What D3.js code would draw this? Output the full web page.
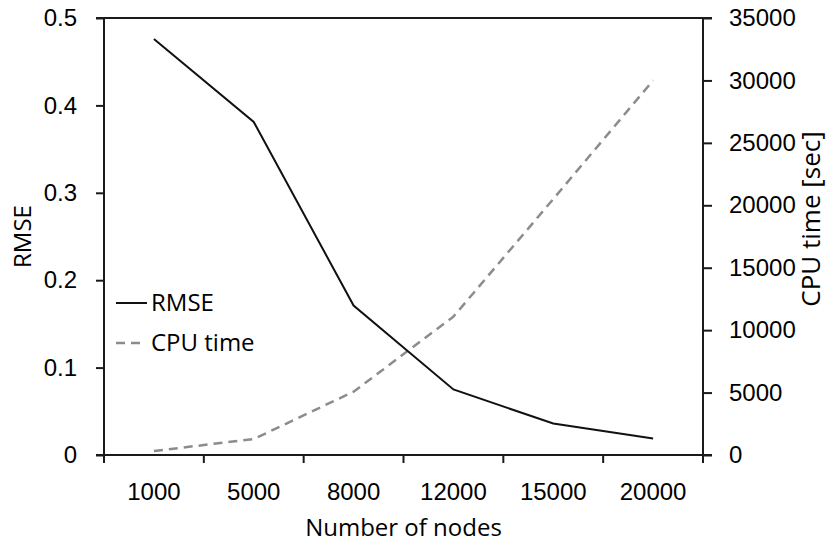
<!DOCTYPE html>
<html>
<head>
<meta charset="utf-8">
<script src="https://cdn.jsdelivr.net/npm/d3@7"></script>
<style>
  body { margin: 0; background: #fff; }
  svg { display: block; font-family: "Open Sans", sans-serif; }
  .axis path, .axis line { stroke: #1a1a1a; stroke-width: 2; }
  .axis text { font-size: 24px; fill: #000; }
  .lbl { font-size: 24px; fill: #000; }
</style>
</head>
<body>
<svg id="chart" width="836" height="544"></svg>
<script>
const nodes = ["1000", "5000", "8000", "12000", "15000", "20000"];
const rmse = [0.476, 0.381, 0.171, 0.075, 0.036, 0.019];
const cpuTime = [320, 1280, 5070, 11080, 20500, 30000];
const rmseTicks = [0, 0.1, 0.2, 0.3, 0.4, 0.5];
const cpuTicks = [0, 5000, 10000, 15000, 20000, 25000, 30000, 35000];

const svg = d3.select("#chart");
const plotL = 104, plotR = 703, plotT = 18, plotB = 455;

const x = d3.scaleBand().domain(nodes).range([plotL, plotR]).paddingInner(0).paddingOuter(0);
const yL = d3.scaleLinear().domain([0, 0.5]).range([plotB, plotT]);
const yR = d3.scaleLinear().domain([0, 35000]).range([plotB, plotT]);

// left axis
svg.append("g").attr("class", "axis")
    .attr("transform", `translate(${plotL},0)`)
    .call(d3.axisLeft(yL).tickValues(rmseTicks).tickSize(8).tickPadding(19)
        .tickFormat(d => d === 0 ? "0" : d3.format(".1f")(d)))
    .call(g => g.select(".domain").attr("d", `M0,${plotT}V${plotB}`));

// right axis
svg.append("g").attr("class", "axis")
    .attr("transform", `translate(${plotR},0)`)
    .call(d3.axisRight(yR).tickValues(cpuTicks).tickSize(9).tickPadding(17).tickFormat(d3.format("d")))
    .call(g => g.select(".domain").attr("d", `M0,${plotT}V${plotB}`));

// top border
svg.append("line").attr("x1", plotL - 8).attr("x2", plotR + 9).attr("y1", plotT).attr("y2", plotT)
    .attr("stroke", "#1a1a1a").attr("stroke-width", 2);

// bottom axis, labels centred in each category
const xAxis = svg.append("g").attr("class", "axis")
    .attr("transform", `translate(0,${plotB})`)
    .call(d3.axisBottom(x).tickSize(0).tickPadding(28));
xAxis.select(".domain").attr("d", `M${plotL - 8},0H${plotR + 9}`);

// category boundary ticks
const bounds = nodes.map(d => x(d)).concat([x.range()[1]]);
xAxis.selectAll(".bound").data(bounds).join("line")
    .attr("class", "bound")
    .attr("x1", d => d).attr("x2", d => d)
    .attr("y1", 0).attr("y2", 8)
    .attr("stroke", "#1a1a1a").attr("stroke-width", 2);

const cx = d => x(d) + x.bandwidth() / 2;

// CPU time line (dashed grey)
svg.append("path")
    .datum(cpuTime)
    .attr("fill", "none")
    .attr("stroke", "#8c8c8c")
    .attr("stroke-width", 2.5)
    .attr("stroke-dasharray", "9,6")
    .attr("d", d3.line().x((d, i) => cx(nodes[i])).y(d => yR(d)));

// RMSE line
svg.append("path")
    .datum(rmse)
    .attr("fill", "none")
    .attr("stroke", "#111")
    .attr("stroke-width", 2)
    .attr("d", d3.line().x((d, i) => cx(nodes[i])).y(d => yL(d)));

// axis titles
svg.append("text").attr("class", "lbl")
    .attr("text-anchor", "middle")
    .attr("transform", `translate(23,${(plotT + plotB) / 2}) rotate(-90)`)
    .attr("dy", "0.35em")
    .text("RMSE");

svg.append("text").attr("class", "lbl")
    .attr("text-anchor", "middle")
    .style("font-size", "26px")
    .attr("transform", `translate(811,219) rotate(-90)`)
    .attr("dy", "0.35em")
    .text("CPU time [sec]");

svg.append("text").attr("class", "lbl")
    .attr("text-anchor", "middle")
    .attr("x", (plotL + plotR) / 2).attr("y", 536)
    .text("Number of nodes");

// legend
const legend = [
  { name: "RMSE", color: "#111", dash: null, width: 2, len: 31 },
  { name: "CPU time", color: "#8c8c8c", dash: "9,6", width: 2.5, len: 26 }
];
const lg = svg.append("g").attr("transform", "translate(116,303)");
legend.forEach((d, i) => {
  lg.append("line").attr("x1", 0).attr("x2", d.len).attr("y1", i * 40).attr("y2", i * 40)
    .attr("stroke", d.color).attr("stroke-width", d.width)
    .attr("stroke-dasharray", d.dash);
  lg.append("text").attr("class", "lbl")
    .attr("x", 35).attr("y", i * 40).attr("dy", "0.35em")
    .text(d.name);
});
</script>
</body>
</html>
